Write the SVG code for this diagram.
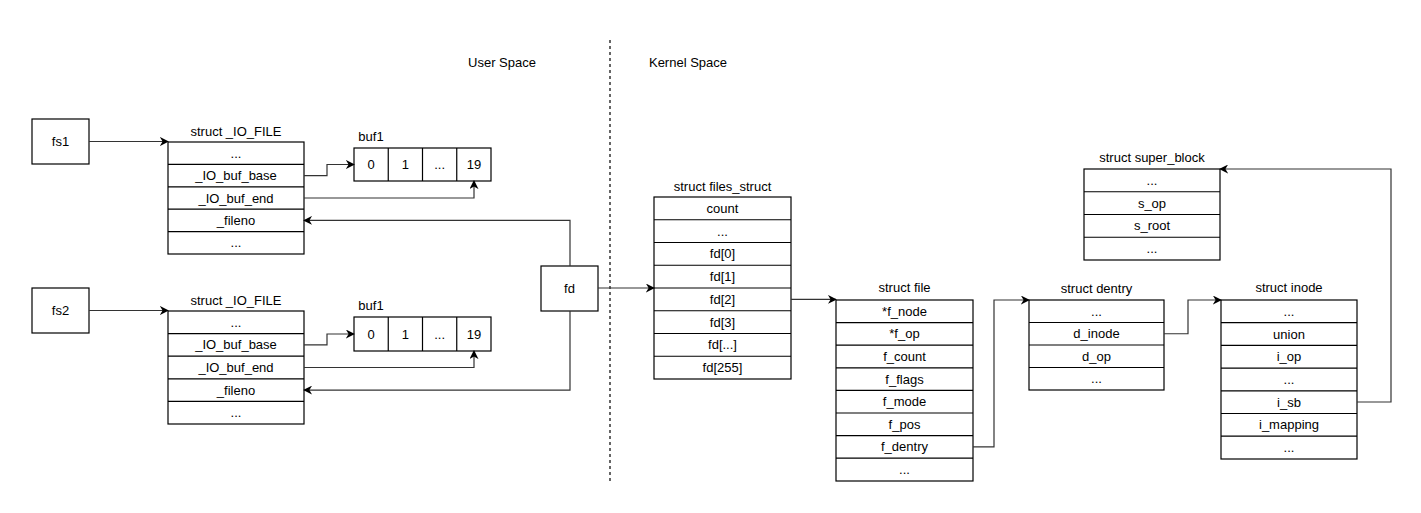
<svg xmlns="http://www.w3.org/2000/svg" width="1421" height="513" viewBox="0 0 1421 513">
  <style>
    .box { fill: #ffffff; stroke: #000000; stroke-width: 1.2; }
    .sep { fill: none; stroke: #000000; stroke-width: 1.2; }
    .t { font-family: "Liberation Sans", Arial, Helvetica, sans-serif; font-size: 13px; fill: #000000; text-anchor: middle; }
    .edge { fill: none; stroke: #333333; stroke-width: 1.2; marker-end: url(#arrow); }
    .divider { fill: none; stroke: #000000; stroke-width: 1.2; stroke-dasharray: 3 3; }
  </style>
  <defs>
    <marker id="arrow" viewBox="0 0 10 10" refX="9" refY="5" markerWidth="9" markerHeight="9" markerUnits="userSpaceOnUse" orient="auto">
      <path d="M0,0 L10,5 L0,10 L3,5 Z" fill="#000000"/>
    </marker>
  </defs>
  <rect width="1421" height="513" fill="#ffffff"/>

  <!-- user / kernel boundary -->
  <g id="boundary">
    <line class="divider" x1="610" y1="40" x2="610" y2="484"/>
    <text class="t" x="502" y="67">User Space</text>
    <text class="t" x="688" y="67">Kernel Space</text>
  </g>

  <!-- stream handles -->
  <g id="fs1">
    <rect class="box" x="32" y="119" width="57" height="45"/>
    <text class="t" x="60.5" y="146">fs1</text>
  </g>
  <g id="fs2">
    <rect class="box" x="32" y="288" width="57" height="45"/>
    <text class="t" x="60.5" y="315">fs2</text>
  </g>

  <!-- first FILE structure -->
  <g id="io_file_1">
    <text class="t" x="236" y="136">struct _IO_FILE</text>
    <rect class="box" x="168" y="142" width="136" height="112"/>
    <path class="sep" d="M168,164.4 H304 M168,186.8 H304 M168,209.2 H304 M168,231.6 H304"/>
    <text class="t" x="236" y="157.7">...</text>
    <text class="t" x="236" y="180.1">_IO_buf_base</text>
    <text class="t" x="236" y="202.5">_IO_buf_end</text>
    <text class="t" x="236" y="224.9">_fileno</text>
    <text class="t" x="236" y="247.3">...</text>
  </g>

  <!-- second FILE structure -->
  <g id="io_file_2">
    <text class="t" x="236" y="305">struct _IO_FILE</text>
    <rect class="box" x="168" y="311" width="136" height="113"/>
    <path class="sep" d="M168,333.6 H304 M168,356.2 H304 M168,378.8 H304 M168,401.4 H304"/>
    <text class="t" x="236" y="326.8">...</text>
    <text class="t" x="236" y="349.4">_IO_buf_base</text>
    <text class="t" x="236" y="372">_IO_buf_end</text>
    <text class="t" x="236" y="394.6">_fileno</text>
    <text class="t" x="236" y="417.2">...</text>
  </g>

  <!-- buffers -->
  <g id="buf1_a">
    <text class="t" x="371" y="141">buf1</text>
    <rect class="box" x="354" y="148" width="137" height="33"/>
    <path class="sep" d="M388.25,148 V181 M422.5,148 V181 M456.75,148 V181"/>
    <text class="t" x="371" y="169">0</text>
    <text class="t" x="405.4" y="169">1</text>
    <text class="t" x="439.6" y="169">...</text>
    <text class="t" x="473.9" y="169">19</text>
  </g>
  <g id="buf1_b">
    <text class="t" x="371" y="310">buf1</text>
    <rect class="box" x="354" y="317" width="137" height="34"/>
    <path class="sep" d="M388.25,317 V351 M422.5,317 V351 M456.75,317 V351"/>
    <text class="t" x="371" y="338.5">0</text>
    <text class="t" x="405.4" y="338.5">1</text>
    <text class="t" x="439.6" y="338.5">...</text>
    <text class="t" x="473.9" y="338.5">19</text>
  </g>

  <!-- descriptor -->
  <g id="fd">
    <rect class="box" x="541" y="266" width="57" height="45"/>
    <text class="t" x="569.5" y="293">fd</text>
  </g>

  <!-- per-process descriptor table -->
  <g id="files_struct">
    <text class="t" x="722.5" y="191">struct files_struct</text>
    <rect class="box" x="654" y="197" width="137" height="182"/>
    <path class="sep" d="M654,219.75 H791 M654,242.5 H791 M654,265.25 H791 M654,288 H791 M654,310.75 H791 M654,333.5 H791 M654,356.25 H791"/>
    <text class="t" x="722.5" y="212.9">count</text>
    <text class="t" x="722.5" y="235.6">...</text>
    <text class="t" x="722.5" y="258.4">fd[0]</text>
    <text class="t" x="722.5" y="281.1">fd[1]</text>
    <text class="t" x="722.5" y="303.9">fd[2]</text>
    <text class="t" x="722.5" y="326.6">fd[3]</text>
    <text class="t" x="722.5" y="349.4">fd[...]</text>
    <text class="t" x="722.5" y="372.1">fd[255]</text>
  </g>

  <!-- open file object -->
  <g id="file">
    <text class="t" x="904.5" y="292">struct file</text>
    <rect class="box" x="836" y="300" width="137" height="181"/>
    <path class="sep" d="M836,322.6 H973 M836,345.2 H973 M836,367.8 H973 M836,390.4 H973 M836,413 H973 M836,435.6 H973 M836,458.2 H973"/>
    <text class="t" x="904.5" y="315.8">*f_node</text>
    <text class="t" x="904.5" y="338.4">*f_op</text>
    <text class="t" x="904.5" y="361">f_count</text>
    <text class="t" x="904.5" y="383.6">f_flags</text>
    <text class="t" x="904.5" y="406.2">f_mode</text>
    <text class="t" x="904.5" y="428.8">f_pos</text>
    <text class="t" x="904.5" y="451.4">f_dentry</text>
    <text class="t" x="904.5" y="474">...</text>
  </g>

  <!-- directory entry -->
  <g id="dentry">
    <text class="t" x="1096.5" y="293">struct dentry</text>
    <rect class="box" x="1029" y="300" width="135" height="90"/>
    <path class="sep" d="M1029,322.5 H1164 M1029,345 H1164 M1029,367.5 H1164"/>
    <text class="t" x="1096.5" y="315.8">...</text>
    <text class="t" x="1096.5" y="338.3">d_inode</text>
    <text class="t" x="1096.5" y="360.8">d_op</text>
    <text class="t" x="1096.5" y="383.3">...</text>
  </g>

  <!-- inode -->
  <g id="inode">
    <text class="t" x="1289" y="292">struct inode</text>
    <rect class="box" x="1221" y="300" width="136" height="159"/>
    <path class="sep" d="M1221,322.7 H1357 M1221,345.4 H1357 M1221,368.1 H1357 M1221,390.8 H1357 M1221,413.5 H1357 M1221,436.2 H1357"/>
    <text class="t" x="1289" y="315.9">...</text>
    <text class="t" x="1289" y="338.6">union</text>
    <text class="t" x="1289" y="361.3">i_op</text>
    <text class="t" x="1289" y="384">...</text>
    <text class="t" x="1289" y="406.7">i_sb</text>
    <text class="t" x="1289" y="429.4">i_mapping</text>
    <text class="t" x="1289" y="452.1">...</text>
  </g>

  <!-- superblock -->
  <g id="super_block">
    <text class="t" x="1152" y="162">struct super_block</text>
    <rect class="box" x="1084" y="169" width="136" height="91"/>
    <path class="sep" d="M1084,191.75 H1220 M1084,214.5 H1220 M1084,237.25 H1220"/>
    <text class="t" x="1152" y="184.9">...</text>
    <text class="t" x="1152" y="207.6">s_op</text>
    <text class="t" x="1152" y="230.4">s_root</text>
    <text class="t" x="1152" y="253.1">...</text>
  </g>

  <!-- pointers -->
  <g id="connectors">
    <path class="edge" d="M89,141.5 H168"/>
    <path class="edge" d="M89,310.5 H168"/>
    <path class="edge" d="M304,175.6 H327 V164.5 H354"/>
    <path class="edge" d="M304,198 H474 V181"/>
    <path class="edge" d="M570,266 V220.4 H304"/>
    <path class="edge" d="M304,344.9 H327 V334 H354"/>
    <path class="edge" d="M304,367.5 H474 V351"/>
    <path class="edge" d="M570,311 V390.1 H304"/>
    <path class="edge" d="M598,288 H654"/>
    <path class="edge" d="M791,299.4 H836"/>
    <path class="edge" d="M973,446.9 H994 V300 H1029"/>
    <path class="edge" d="M1164,333.75 H1188 V300 H1221"/>
    <path class="edge" d="M1357,402 H1391 V169 H1220"/>
  </g>
</svg>
